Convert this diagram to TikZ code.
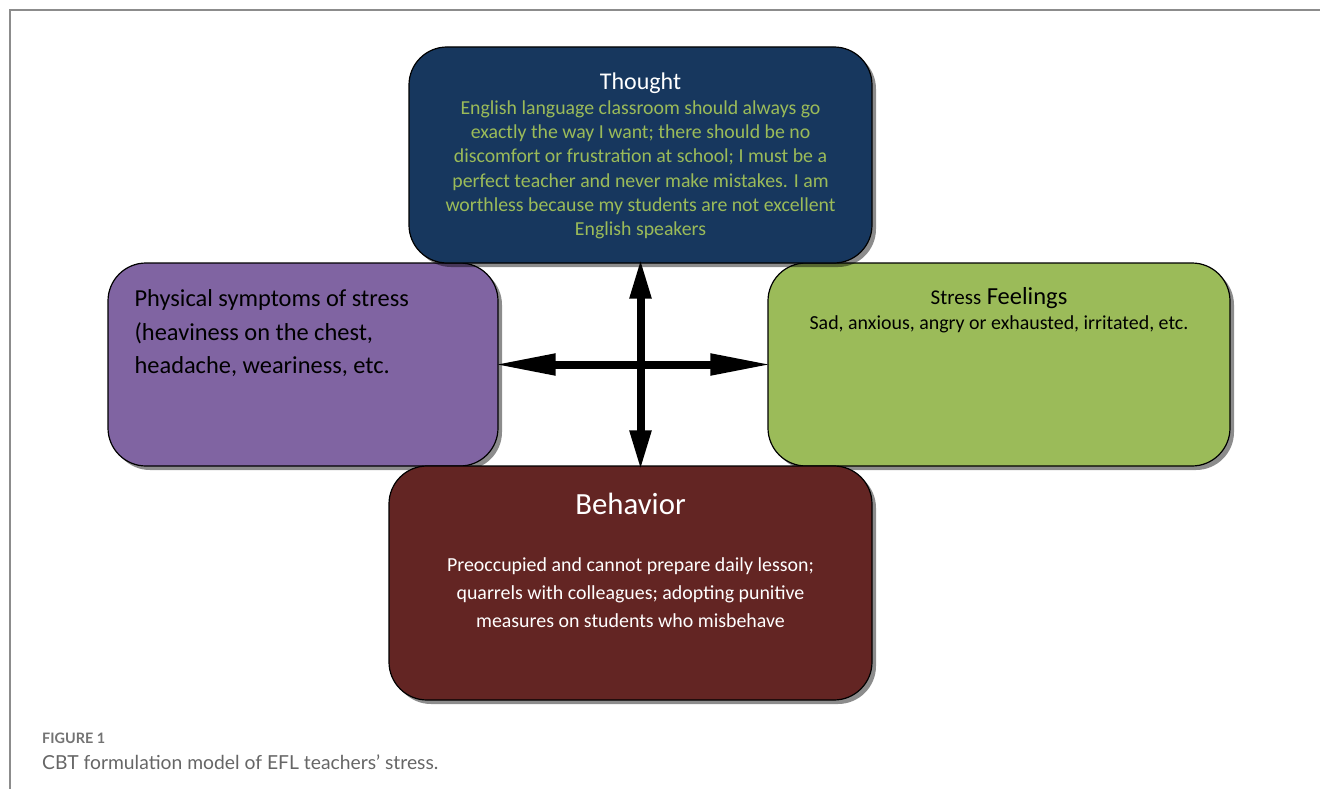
\documentclass[tikz,border=0pt]{standalone}
\usepackage{fontspec}
\setmainfont{Carlito}
\newfontfamily\capfont{Lato}
\usetikzlibrary{positioning,shadows,arrows.meta}

\definecolor{thoughtblue}{HTML}{17375E}
\definecolor{feelgreen}{HTML}{9BBB59}
\definecolor{bodypurple}{HTML}{8064A2}
\definecolor{actred}{HTML}{632523}
\definecolor{framegray}{HTML}{8C8C8C}

\tikzset{
	box/.style={draw=black, line width=1.2pt, rounded corners=38pt,
		drop shadow={shadow xshift=4pt, shadow yshift=-4pt, fill=black, opacity=0.45}},
	txt/.style={inner sep=0pt, align=center},
	fat/.style={line width=8pt, shorten <=-5pt, shorten >=-5pt,
		{Triangle[length=#1,width=20pt]}-{Triangle[length=#1,width=20pt]}},
}

\newcommand{\fs}[2]{\fontsize{#1}{#2}\selectfont}

\begin{document}
\begin{tikzpicture}[x=1pt, y=-1pt]
		\useasboundingbox (0,0) rectangle (1320,789);
		% frame
		\draw[framegray, line width=1.5pt] (10,789) -- (10,10) -- (1320,10);

		% the four boxes
		\node[box, fill=bodypurple, minimum width=390pt, minimum height=203pt] (physical) at (303,364.5) {};
		\node[box, fill=feelgreen, minimum width=462pt, minimum height=203pt] (feelings) at (999,364.5) {};
		\node[box, fill=thoughtblue, minimum width=463pt, minimum height=216pt] (thought) at (640.5,155) {};
		\node[box, fill=actred, minimum width=483pt, minimum height=234pt] (behavior) at (630.5,583) {};

		% texts
		\node[txt, text=white, font=\fs{24}{28}, below=26pt of thought.north] (thoughttitle) {Thought};
		\node[txt, text=feelgreen, font=\fs{19.8}{24.2}, below=7pt of thoughttitle] (thoughtbody)
			{English language classroom should always go\\
			exactly the way I want; there should be no\\
			discomfort or frustration at school; I must be a\\
			perfect teacher and never make mistakes. I am\\
			worthless because my students are not excellent\\
			English speakers};
		\node[txt, align=left, font=\fs{24.4}{33.5}, below right=27pt and 27pt of physical.north west] (physicaltext)
			{Physical symptoms of stress\\
			(heaviness on the chest,\\
			headache, weariness, etc.};
		\node[txt, font=\fs{24.5}{28}, below=25pt of feelings.north] (feeltitle) {{\fs{21}{28}Stress} Feelings};
		\node[txt, font=\fs{19.9}{24}, below=6pt of feeltitle] (feelbody)
			{Sad, anxious, angry or exhausted, irritated, etc.};
		\node[txt, text=white, font=\fs{30.8}{34}, below=28pt of behavior.north] (behaviortitle) {Behavior};
		\node[txt, text=white, font=\fs{19.9}{28}, below=42pt of behaviortitle] (behaviorbody)
			{Preoccupied and cannot prepare daily lesson;\\
			quarrels with colleagues; adopting punitive\\
			measures on students who misbehave};

		% arrows between the boxes
		\draw[fat=62pt] (physical.east) -- (feelings.west);
		\draw[fat=40pt] (thought.south) -- (thought.south |- behavior.north);

		% caption
		\node[txt, anchor=west, text=black!55, font=\capfont\bfseries\fs{14.4}{17}] (figlabel) at (42,738) {FIGURE 1};
		\node[txt, anchor=west, text=black!60, font=\capfont\fs{19.3}{23}] (figcaption) at (42,762)
			{CBT formulation model of EFL teachers’ stress.};
	\end{tikzpicture}
\end{document}
